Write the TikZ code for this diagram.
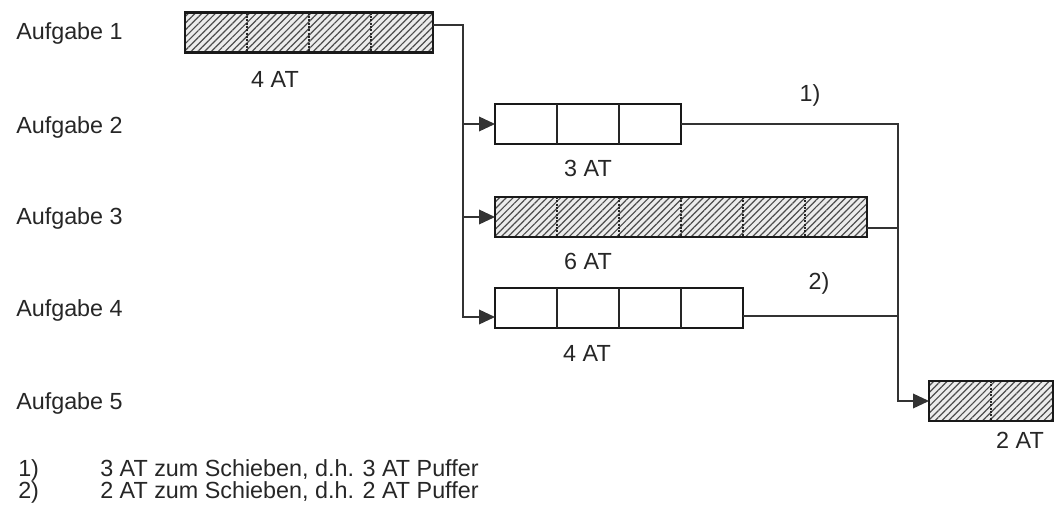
\documentclass[tikz,border=0pt]{standalone}
\usepackage{fontspec}
\setmainfont{Liberation Sans}
\usetikzlibrary{patterns,patterns.meta,arrows.meta,calc}
\begin{document}
\begin{tikzpicture}[x=0.75pt,y=-0.75pt,
  lbl/.style={text=black!85,font=\fontsize{17.5}{21}\selectfont,inner sep=0pt},
  task/.style={draw=black!90,line width=2pt,minimum height=30pt,inner sep=0pt,outer sep=0pt,anchor=west},
  openbox/.style={task,fill=white},
  hatchbox/.style={task,preaction={fill=gray!15},pattern={Lines[angle=45,distance=3.6pt,line width=0.9pt]},pattern color=black!70},
  soliddiv/.style={draw=black!85,line width=1pt},
  dotdiv/.style={draw=black!85,line width=1pt,dash pattern=on 1.5pt off 1pt},
  conn/.style={draw=black!80,line width=1.1pt},
  arr/.style={conn,-{Triangle[length=12pt,width=11pt]}}
]
\useasboundingbox (0,0) rectangle (1060,514);

% row labels
\node[lbl,anchor=west] (l1) at (16,33) {Aufgabe 1};
\node[lbl,anchor=west] (l2) at (16,127) {Aufgabe 2};
\node[lbl,anchor=west] (l3) at (16,218) {Aufgabe 3};
\node[lbl,anchor=west] (l4) at (16,310) {Aufgabe 4};
\node[lbl,anchor=west] (l5) at (16,403) {Aufgabe 5};

% task bars
\node[hatchbox,minimum width=186pt] (t1) at (185,32.5) {};
\node[openbox,minimum width=139.5pt] (t2) at (495,124) {};
\node[hatchbox,minimum width=279pt] (t3) at (495,217) {};
\node[openbox,minimum width=186pt] (t4) at (495,308) {};
\node[hatchbox,minimum width=93pt] (t5) at (929,401) {};

% cell dividers
\foreach \i in {1,2,3}
  \draw[dotdiv] ([xshift=\i*46.5pt]t1.north west) -- ([xshift=\i*46.5pt]t1.south west);
\foreach \i in {1,2}
  \draw[soliddiv] ([xshift=\i*46.5pt]t2.north west) -- ([xshift=\i*46.5pt]t2.south west);
\foreach \i in {1,...,5}
  \draw[dotdiv] ([xshift=\i*46.5pt]t3.north west) -- ([xshift=\i*46.5pt]t3.south west);
\foreach \i in {1,2,3}
  \draw[soliddiv] ([xshift=\i*46.5pt]t4.north west) -- ([xshift=\i*46.5pt]t4.south west);
\draw[dotdiv] ([xshift=46.5pt]t5.north west) -- ([xshift=46.5pt]t5.south west);

% duration labels
\node[lbl] (d1) at (275,79) {4 AT};
\node[lbl] (d2) at (588,168) {3 AT};
\node[lbl] (d3) at (588,261) {6 AT};
\node[lbl] (d4) at (587,353) {4 AT};
\node[lbl] (d5) at (1020,440) {2 AT};

% connectors from task 1
\coordinate (a1) at (463,25);
\draw[arr] (t1.east |- a1) -- (a1) |- ([yshift=-6.75pt]t4.west);
\draw[arr] (a1 |- t2.west) -- (t2.west);
\draw[arr] (a1 |- t3.west) -- (t3.west);

% connectors to task 5
\coordinate (b1) at (898,124);
\draw[arr] (t2.east) -- (b1) |- (t5.west);
\draw[conn] ([yshift=-8.25pt]t3.east) -| (b1);
\draw[conn] ([yshift=-6pt]t4.east) -| (b1);

% buffer marks
\node[lbl] (m1) at (810,95) {1)};
\node[lbl] (m2) at (819,283) {2)};

% footnotes
\node[lbl,anchor=west] (f1n) at (18,470) {1)};
\node[lbl,anchor=west] (f1t) at (100,470) {3 AT zum Schieben, d.h. 3 AT Puffer};
\node[lbl,anchor=west] (f2n) at (18,492) {2)};
\node[lbl,anchor=west] (f2t) at (100,492) {2 AT zum Schieben, d.h. 2 AT Puffer};
\end{tikzpicture}
\end{document}
